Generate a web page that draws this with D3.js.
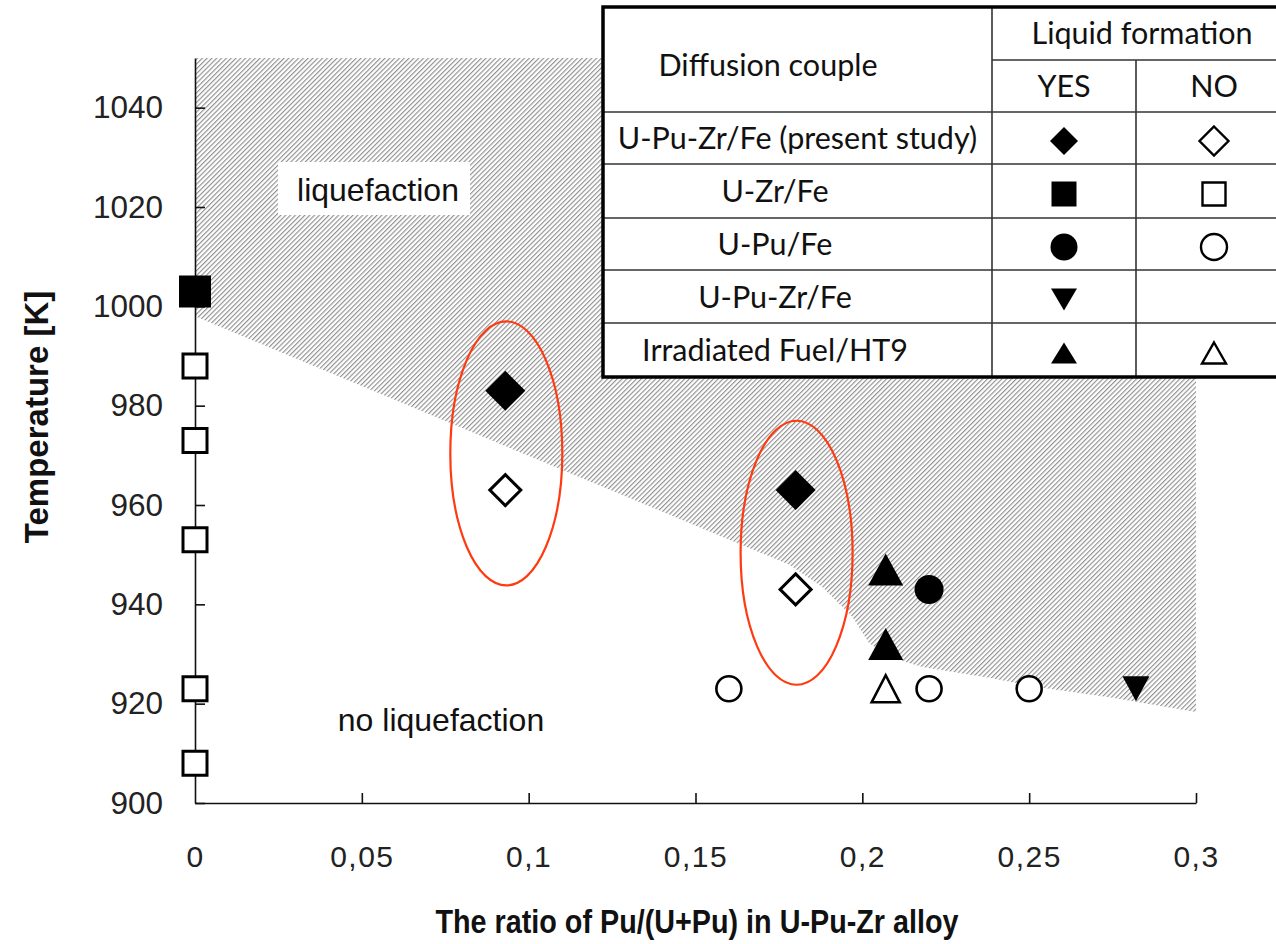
<!DOCTYPE html>
<html lang="en">
<head>
<meta charset="utf-8">
<title>Liquefaction of U-Pu-Zr/Fe diffusion couples</title>
<script src="https://d3js.org/d3.v7.min.js"></script>
<style>
  body { margin: 0; background: #fff; }
  svg { display: block; }
</style>
</head>
<body>
<script>
// ticks
var xTicks = [0, 0.05, 0.1, 0.15, 0.2, 0.25, 0.3];
var xTickLabels = ["0", "0,05", "0,1", "0,15", "0,2", "0,25", "0,3"];
var yTicks = [900, 920, 940, 960, 980, 1000, 1020, 1040];

// points: [Pu/(U+Pu), temperature K]
var presentYes = [[0.093, 983], [0.18, 963]];
var presentNo = [[0.093, 963], [0.18, 943]];
var uZrYes = [[0, 1003]];
var uZrNo = [[0, 988], [0, 973], [0, 953], [0, 923], [0, 908]];
var uPuYes = [[0.22, 943]];
var uPuNo = [[0.16, 923], [0.22, 923], [0.25, 923]];
var uPuZrYes = [[0.282, 923]];
var irradYes = [[0.207, 947], [0.207, 932]];
var irradNo = [[0.207, 923]];

// lower edge of the liquefaction region
var boundaryX = [0, 0.178, 0.188, 0.197, 0.202, 0.208, 0.218, 0.238, 0.254, 0.274, 0.3];
var boundaryT = [998, 948, 943.5, 937.5, 932.2, 929.4, 927.4, 925.2, 923.2, 921.3, 918.3];
var regionTop = 1050;

var legendRows = ["U-Pu-Zr/Fe (present study)", "U-Zr/Fe", "U-Pu/Fe", "U-Pu-Zr/Fe", "Irradiated Fuel/HT9"];

var w = 1276, h = 944;
var svg = d3.select("body").append("svg").attr("width", w).attr("height", h);

var x = d3.scaleLinear().domain([0, 0.3]).range([195, 1196]);
var y = d3.scaleLinear().domain([900, 1050]).range([803, 58]);

// hatch pattern
var defs = svg.append("defs");
var pat = defs.append("pattern")
    .attr("id", "hatch")
    .attr("patternUnits", "userSpaceOnUse")
    .attr("width", 3.4).attr("height", 3.4)
    .attr("patternTransform", "rotate(45)");
pat.append("line")
    .attr("x1", 0.6).attr("y1", 0).attr("x2", 0.6).attr("y2", 3.4)
    .attr("stroke", "#858585").attr("stroke-width", 1.05);

var region = [[0, regionTop], [0.3, regionTop]];
for (var i = boundaryX.length - 1; i >= 0; i--) region.push([boundaryX[i], boundaryT[i]]);
svg.append("path")
    .attr("d", d3.line().x(function (d) { return x(d[0]); }).y(function (d) { return y(d[1]); })(region) + "Z")
    .attr("fill", "url(#hatch)");

// white box behind "liquefaction"
svg.append("rect").attr("x", 278).attr("y", 162).attr("width", 192).attr("height", 53).attr("fill", "#fff");
svg.append("text").attr("x", 378).attr("y", 201).attr("text-anchor", "middle")
    .style("font-family", "Liberation Sans").style("font-size", "32px").attr("fill", "#111")
    .text("liquefaction");
svg.append("text").attr("x", 441).attr("y", 731).attr("text-anchor", "middle")
    .style("font-family", "Liberation Sans").style("font-size", "32px").attr("fill", "#111")
    .text("no liquefaction");

// axes
var xAxis = d3.axisBottom(x).tickValues(xTicks)
    .tickFormat(function (d, i) { return xTickLabels[i]; })
    .tickSizeInner(-10).tickSizeOuter(0).tickPadding(43);
var yAxis = d3.axisLeft(y).tickValues(yTicks)
    .tickFormat(d3.format("d"))
    .tickSizeInner(-10).tickSizeOuter(0).tickPadding(32);

var gx = svg.append("g").attr("transform", "translate(0,803)").call(xAxis);
var gy = svg.append("g").attr("transform", "translate(195,0)").call(yAxis);
[gx, gy].forEach(function (g) {
    g.selectAll("path, line").attr("stroke", "#111").attr("stroke-width", 1.6);
    g.selectAll("text").style("font-family", "Liberation Sans").style("font-size", "30px").attr("fill", "#222");
});
gx.selectAll("text").style("letter-spacing", "1.5px");
gy.selectAll("text").style("font-size", "31.5px");
gx.select(".tick").select("line").remove();

svg.append("text")
    .attr("transform", "translate(48,417) rotate(-90)")
    .attr("text-anchor", "middle")
    .style("font-family", "Liberation Sans").style("font-size", "33px").style("font-weight", "bold")
    .attr("fill", "#111")
    .text("Temperature [K]");
svg.append("text")
    .attr("x", 697).attr("y", 933).attr("text-anchor", "middle")
    .attr("textLength", 523).attr("lengthAdjust", "spacingAndGlyphs")
    .style("font-family", "Liberation Sans").style("font-size", "33px").style("font-weight", "bold")
    .attr("fill", "#111")
    .text("The ratio of Pu/(U+Pu) in U-Pu-Zr alloy");

// marker shapes centred on their bounding box
function diamond(d) { var r = d / 2; return "M0," + (-r) + "L" + r + ",0L0," + r + "L" + (-r) + ",0Z"; }
function square(s) { var r = s / 2; return "M" + (-r) + "," + (-r) + "H" + r + "V" + r + "H" + (-r) + "Z"; }
function circle(dm) { var r = dm / 2; return "M" + (-r) + ",0A" + r + "," + r + " 0 1,0 " + r + ",0A" + r + "," + r + " 0 1,0 " + (-r) + ",0Z"; }
function triUp(tw, th) { return "M0," + (-th / 2) + "L" + (tw / 2) + "," + (th / 2) + "L" + (-tw / 2) + "," + (th / 2) + "Z"; }
function triDown(tw, th) { return "M0," + (th / 2) + "L" + (tw / 2) + "," + (-th / 2) + "L" + (-tw / 2) + "," + (-th / 2) + "Z"; }

var series = [
    { data: uZrNo, shape: square(24), filled: false, sw: 3 },
    { data: uZrYes, shape: square(32), filled: true },
    { data: presentYes, shape: diamond(40), filled: true },
    { data: presentNo, shape: diamond(31), filled: false, sw: 3 },
    { data: uPuYes, shape: circle(29), filled: true },
    { data: uPuNo, shape: circle(25), filled: false, sw: 2.6 },
    { data: irradYes, shape: triUp(35, 32), filled: true },
    { data: irradNo, shape: triUp(28, 27), filled: false, sw: 2.6 },
    { data: uPuZrYes, shape: triDown(27, 25), filled: true }
];
series.forEach(function (s) {
    svg.append("g").selectAll("path").data(s.data).enter().append("path")
        .attr("transform", function (d) { return "translate(" + x(d[0]) + "," + y(d[1]) + ")"; })
        .attr("d", s.shape)
        .attr("fill", s.filled ? "#000" : "#fff")
        .attr("stroke", s.filled ? "none" : "#000")
        .attr("stroke-width", s.sw || 0);
});

// red ellipses around the present-study pairs
svg.append("g").selectAll("ellipse").data(presentYes).enter().append("ellipse")
    .attr("cx", function (d) { return x(d[0]) + 1; })
    .attr("cy", function (d, i) { return (y(d[1]) + y(presentNo[i][1])) / 2 + 13; })
    .attr("rx", 56).attr("ry", 132)
    .attr("fill", "none").attr("stroke", "#ff3a10").attr("stroke-width", 2.2);

// legend table
var tb = svg.append("g");
var tLeft = 603, tRight = 1292, tTop = 7, tBottom = 377;
var c1 = 992, c2 = 1136, headMid = 60, headBottom = 112;
var rowLines = [112, 164, 218, 270, 323, 377];
tb.append("rect").attr("x", tLeft).attr("y", tTop).attr("width", tRight - tLeft).attr("height", tBottom - tTop)
    .attr("fill", "#fff").attr("stroke", "none");
var thin = function (x1, y1, x2, y2) {
    tb.append("line").attr("x1", x1).attr("y1", y1).attr("x2", x2).attr("y2", y2)
        .attr("stroke", "#333").attr("stroke-width", 1.6);
};
rowLines.slice(0, -1).forEach(function (ry) { thin(tLeft, ry, tRight, ry); });
thin(c1, headMid, tRight, headMid);
thin(c1, tTop, c1, tBottom);
thin(c2, headMid, c2, tBottom);
tb.append("rect").attr("x", tLeft).attr("y", tTop).attr("width", tRight - tLeft).attr("height", tBottom - tTop)
    .attr("fill", "none").attr("stroke", "#000").attr("stroke-width", 3.5);

var tfont = function (sel) {
    return sel.style("font-family", "Lato").style("font-size", "30.5px").attr("fill", "#111").attr("text-anchor", "middle");
};
tfont(tb.append("text").attr("x", 768).attr("y", 76).text("Diffusion couple"));
tfont(tb.append("text").attr("x", (c1 + tRight) / 2).attr("y", 44).text("Liquid formation"));
tfont(tb.append("text").attr("x", (c1 + c2) / 2).attr("y", 97).text("YES"));
tfont(tb.append("text").attr("x", (c2 + tRight) / 2).attr("y", 97).text("NO"));

legendRows.forEach(function (label, i) {
    var cy = (rowLines[i] + rowLines[i + 1]) / 2;
    tfont(tb.append("text").attr("x", i === 0 ? (tLeft + c1) / 2 : 775).attr("y", cy + 11).text(label));
});

var legendMarks = [
    [diamond(28), true], [diamond(29), false],
    [square(25), true], [square(23), false],
    [circle(27), true], [circle(26), false],
    [triDown(26, 22), true], null,
    [triUp(26, 21), true], [triUp(24, 21), false]
];
legendMarks.forEach(function (m, k) {
    if (!m) return;
    var row = Math.floor(k / 2), col = k % 2;
    var cy = (rowLines[row] + rowLines[row + 1]) / 2 + 3;
    var cx = col === 0 ? (c1 + c2) / 2 : (c2 + tRight) / 2;
    tb.append("path").attr("transform", "translate(" + cx + "," + cy + ")")
        .attr("d", m[0])
        .attr("fill", m[1] ? "#000" : "#fff")
        .attr("stroke", m[1] ? "none" : "#000")
        .attr("stroke-width", m[1] ? 0 : 2.4);
});
</script>
</body>
</html>
